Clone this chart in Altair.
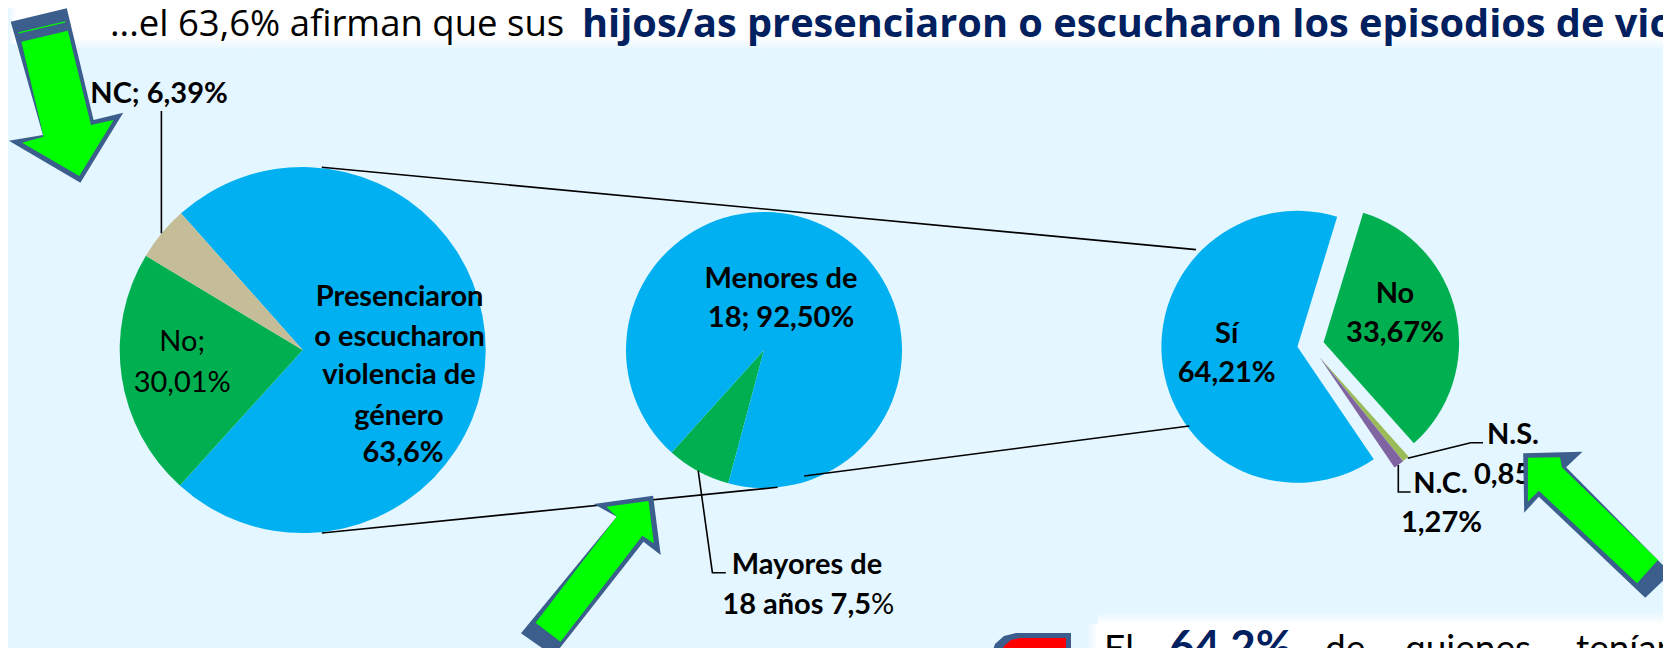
import math
import altair as alt
import pandas as pd

W, H = 1671, 656
SX = alt.Scale(domain=[8, W - 8], range=[0, W - 16])
SY = alt.Scale(domain=[8, H - 8], range=[0, H - 16])
STH = alt.Scale(domain=[0, 720], range=[0, 4 * math.pi])

BG = "#E4F6FF"
BLUE = "#00B0F0"
GREEN = "#00B050"
TAN = "#C4BD97"
OLIVE = "#9BBB59"
PURPLE = "#8064A2"
NAVY = "#002060"
EDGE = "#3B5E8C"
LIME = "#00FF00"
FONT = "Lato"
TITLE_FONT = "Open Sans"

# Pie 1, shares as drawn (clockwise from the blue slice)
p1_names = ["Presenciaron", "No", "NC"]
p1_vals = [73.3, 21.9, 4.8]
p1_cols = [BLUE, GREEN, TAN]
# Pie 2
p2_names = ["Menores de 18", "Mayores de 18"]
p2_vals = [92.5, 7.5]
p2_cols = [BLUE, GREEN]
# Pie 3
p3_names = ["No", "N.S.", "N.C.", "Si"]
p3_vals = [33.67, 0.85, 1.27, 64.21]
p3_cols = [GREEN, OLIVE, PURPLE, BLUE]


def slices(names, vals, cols, start):
    rows, a = [], start
    for n, v, c in zip(names, vals, cols):
        rows.append({"name": n, "start": a, "end": a + v * 3.6, "fill": c})
        a += v * 3.6
    return pd.DataFrame(rows)


def pie(df, cx, cy, r):
    return alt.Chart(df).mark_arc(radius=r).encode(
        x=alt.datum(cx, scale=SX, axis=None),
        y=alt.datum(cy, scale=SY, axis=None),
        theta=alt.Theta("start:Q", scale=STH, stack=False),
        theta2=alt.Theta2("end:Q"),
        color=alt.Color("fill:N", scale=None),
        tooltip=alt.Tooltip("name:N"),
    )


def line(xs, ys, width=1.6):
    df = pd.DataFrame({"x": xs, "y": ys, "i": range(len(xs))})
    return alt.Chart(df).mark_line(color="black", strokeWidth=width, interpolate="linear").encode(
        x=alt.X("x:Q", scale=SX, axis=None),
        y=alt.Y("y:Q", scale=SY, axis=None),
        order="i:Q",
    )


def poly(pts, fill, ax=None, ay=None):
    ax = pts[0][0] if ax is None else ax
    ay = pts[0][1] if ay is None else ay
    path = "M" + "L".join(f"{x-ax:.1f},{y-ay:.1f}" for x, y in pts) + "Z"
    return alt.Chart(pd.DataFrame({"a": [0]})).mark_point(
        shape=path, size=4, filled=True, fill=fill, opacity=1
    ).encode(
        x=alt.datum(ax, scale=SX, axis=None),
        y=alt.datum(ay, scale=SY, axis=None),
    )


def label(s, x, y, size=29, bold=True, color="black", align="center", baseline="middle", font=FONT):
    if baseline == "middle":
        y = y + 2
    return alt.Chart(pd.DataFrame({"t": [s]})).mark_text(
        font=font, fontSize=size, fontWeight="bold" if bold else "normal",
        color=color, align=align, baseline=baseline,
    ).encode(
        x=alt.datum(x, scale=SX, axis=None),
        y=alt.datum(y, scale=SY, axis=None),
        text="t:N",
    )


def band(x0, x1, y0, y1, fill):
    return alt.Chart(pd.DataFrame({"x": [x0], "x2": [x1], "y": [y0], "y2": [y1]})).mark_rect(
        fill=fill, opacity=1
    ).encode(
        x=alt.X("x:Q", scale=SX, axis=None), x2="x2:Q",
        y=alt.Y("y:Q", scale=SY, axis=None), y2="y2:Q",
    )


def fade(dir_):
    stops = [alt.GradientStop(offset=0, color="#FFFFFF"), alt.GradientStop(offset=1, color=BG)]
    if dir_ == "down":
        return alt.LinearGradient(gradient="linear", stops=stops, x1=0, x2=0, y1=0, y2=1)
    if dir_ == "up":
        return alt.LinearGradient(gradient="linear", stops=stops, x1=0, x2=0, y1=1, y2=0)
    return alt.LinearGradient(gradient="linear", stops=stops, x1=1, x2=0, y1=0, y2=0)


RIGHT, BOTTOM = W - 8, H - 8

panels = [
    band(16, RIGHT, 8, 38, "#FFFFFF"),
    band(16, RIGHT, 38, 50, fade("down")),
    band(8, 16, 8, 44, fade("left")),
    band(1098, RIGHT, 624, BOTTOM, "#FFFFFF"),
    band(1098, RIGHT, 612, 624, fade("up")),
    band(1086, 1098, 624, BOTTOM, fade("left")),
]

pies = [
    pie(slices(p1_names, p1_vals, p1_cols, 318.3 - 360), 302.7, 350, 183),
    pie(slices(p2_names[::-1], p2_vals[::-1], p2_cols[::-1], 195.0), 764, 350, 138),
]
d3 = slices(p3_names, p3_vals, p3_cols, 17.0)
pies += [
    pie(d3[d3.name == "Si"], 1297.4, 346.8, 136),
    pie(d3[d3.name == "No"], 1323.6, 342.3, 135.5),
    pie(d3[d3.name.isin(["N.S.", "N.C."])], 1319.2, 356.7, 134),
]

lines = [
    line([321.8, 1196], [167.3, 249.6]),
    line([321.8, 777.5], [533, 487.3]),
    line([804.2, 1189.2], [476, 426]),
    line([161.4, 161.4], [111, 233.3]),
    line([698.2, 712.4, 725.8], [470.7, 572.7, 572.7]),
    line([1407.7, 1470.7, 1483], [458.3, 442.7, 442.7]),
    line([1398.3, 1398.3, 1410.6], [465, 492, 492]),
]

BODY = 37
texts = [
    label("...el 63,6% afirman que sus", 110, 36, size=36.5, bold=False, align="left", baseline="alphabetic", font=TITLE_FONT),
    label("hijos/as presenciaron o escucharon los episodios de violencia", 582, 36.5, size=39.7, color=NAVY, align="left", baseline="alphabetic", font=TITLE_FONT),
    label("NC; 6,39%", 159, 92),
    label("Presenciaron", 399.6, 295.2),
    label("o escucharon", 399.6, 334.6),
    label("violencia de", 399, 373),
    label("género", 399, 413.5),
    label("63,6%", 403, 450.8),
    label("No;", 182.2, 340, bold=False),
    label("30,01%", 182.2, 380.5, bold=False),
    label("Menores de", 781, 277),
    label("18; 92,50%", 781, 315.5),
    label("Mayores de", 807, 563),
    label("18 años 7,5", 871, 603, align="right"),
    label("%", 871, 603, bold=False, align="left"),
    label("Sí", 1226.7, 331.7),
    label("64,21%", 1226.7, 370.7),
    label("No", 1395, 292.3),
    label("33,67%", 1395, 331),
    label("N.S.", 1513, 433.3),
    label("0,85%", 1474, 472.7, align="left"),
    label("N.C.", 1440.5, 481.7),
    label("1,27%", 1441.5, 520.7),
    label("El", 1104, 661, size=BODY, bold=False, align="left", baseline="alphabetic"),
    label("64,2%", 1169, 662, size=44, color=NAVY, align="left", baseline="alphabetic"),
    label("de", 1325, 661, size=BODY, bold=False, align="left", baseline="alphabetic"),
    label("quienes", 1405, 661, size=BODY, bold=False, align="left", baseline="alphabetic"),
    label("tenían", 1576, 661, size=BODY, bold=False, align="left", baseline="alphabetic"),
]

arrows = [
    poly([(10.7, 21.7), (66.8, 8.3), (93.6, 120), (123.2, 112.7), (80.4, 182.7), (8.9, 140.7), (42.9, 135)], EDGE),
    poly([(21.4, 41.7), (67.9, 30.7), (91, 125), (113.6, 120), (79.3, 176), (22.1, 142.7), (43.6, 136.7)], LIME),
    poly([(18.6, 32.2), (65.4, 21.2), (65.4, 22.4), (18.6, 33.4)], LIME),
    poly([(653.1, 495.7), (593.8, 504), (616.7, 516.7), (521, 633.3), (553.6, 656), (643.5, 541.7), (660.7, 555)], EDGE),
    poly([(648.5, 501), (606.4, 506.7), (616.7, 516.7), (535.6, 622.7), (560.5, 641.7), (642.4, 535.7), (653.8, 543.3)], LIME),
    poly([(1582.5, 451.7), (1523.2, 453.3), (1524.2, 512.7), (1538.8, 496.7), (1645.2, 597.7), (1671, 573.3), (1566.1, 467.3)], EDGE),
    poly([(1527.9, 457.7), (1560, 457.3), (1561.8, 467.3), (1657.9, 560), (1637.1, 583.3), (1538.8, 490.7), (1527.9, 501.7)], LIME),
    poly([(991, 656), (995, 644), (1004, 636), (1016, 633), (1071, 633), (1071, 656)], EDGE),
    poly([(1000, 656), (1004, 646), (1011, 640), (1020, 638), (1066, 638), (1066, 656)], "#FF0000"),
    poly([(1029, 651), (1035, 653), (1037, 656), (1021, 656), (1023, 653)], "black"),
]

chart = alt.layer(*panels, *pies, *lines, *texts, *arrows).properties(
    width=W - 16, height=H - 16, padding=0, autosize="none", background=BG,
).configure_view(stroke=None)

chart.save("out.html", embed_options={"renderer": "svg", "actions": False})
